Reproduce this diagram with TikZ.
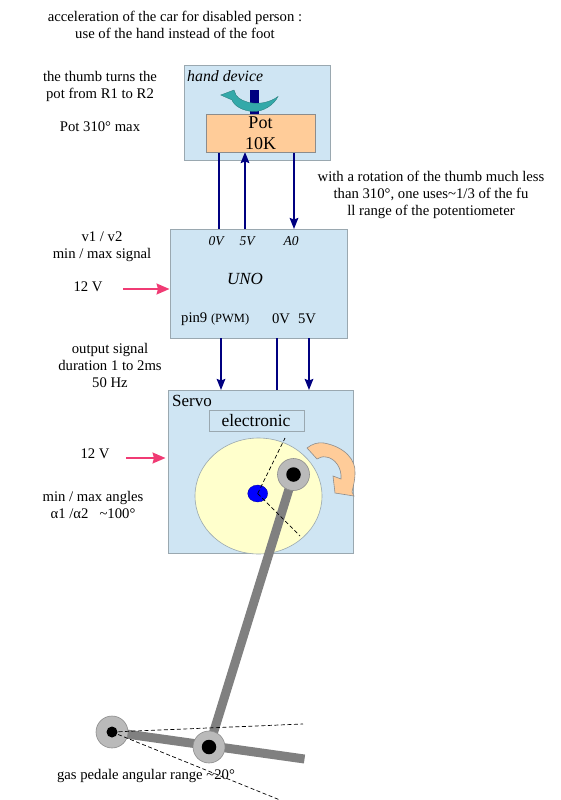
\documentclass[tikz,border=0pt]{standalone}
\usepackage{fontspec}
\setmainfont{Liberation Serif}
\usetikzlibrary{arrows.meta}
\definecolor{boxblue}{HTML}{CFE5F3}
\definecolor{boxedge}{HTML}{9AA8B0}
\definecolor{potorange}{HTML}{FFCC99}
\definecolor{discyellow}{HTML}{FFFFCC}
\definecolor{wirenavy}{HTML}{000080}
\definecolor{pinkarrow}{HTML}{F03B74}
\definecolor{thumbteal}{HTML}{33A9A9}
\tikzset{
    box/.style={draw=boxedge, line width=1pt, fill=boxblue, inner sep=0pt},
    lbl/.style={font=\fontsize{14.7}{17}\selectfont, align=center, inner sep=0pt},
    wire/.style={draw=wirenavy, line width=2pt},
    wirearrow/.style={wire, -{Stealth[length=11pt,width=8.5pt,inset=1.5pt]}},
    pinkline/.style={draw=pinkarrow, line width=1.4pt, -{Stealth[length=13pt,width=11pt,inset=1.5pt]}},
    bar/.style={draw=black!50, line width=9pt},
    joint/.style={circle, draw=black!45, fill=black!27, line width=0.6pt, minimum size=32pt, inner sep=0pt},
    hole/.style={circle, fill=black, inner sep=0pt},
    limit/.style={draw=black, dash pattern=on 4pt off 2.5pt, line width=0.7pt}
}
\begin{document}
\begin{tikzpicture}[x=1pt, y=-1pt]
    \useasboundingbox (0,0) rectangle (560,800);

    %Add the boxes
    \node[box, minimum width=146pt, minimum height=94pt] (hand) at (257,113) {};
    \node[box, minimum width=177pt, minimum height=109pt] (uno) at (258.5,283.5) {};
    \node[box, minimum width=185pt, minimum height=163pt] (servo) at (260.5,471.5) {};

    %Define the ends of the wires
    \coordinate (uno0V) at (219,229);
    \coordinate (uno5V) at (245,229);
    \coordinate (unoA0) at (294,229);
    \coordinate (pot0V) at (219,150);
    \coordinate (pot5V) at (245,152);
    \coordinate (potA0) at (294,150);
    \coordinate (pinOut) at (221,338);
    \coordinate (gndOut) at (277,338);
    \coordinate (vccOut) at (309,338);
    \coordinate (servoIn) at (221,390);
    \coordinate (servoGnd) at (277,390);
    \coordinate (servoVcc) at (309,390);

    % Add the wires
    \draw[wire] (pot0V) -- (uno0V);
    \draw[wirearrow] (uno5V) -- (pot5V);
    \draw[wirearrow] (potA0) -- (unoA0);
    \draw[wirearrow] (pinOut) -- (servoIn);
    \draw[wire] (gndOut) -- (servoGnd);
    \draw[wirearrow] (vccOut) -- (servoVcc);

    % Add the pot and the thumb
    \node[box, draw=black!45, fill=potorange, minimum width=109pt, minimum height=38pt] (pot) at (260.5,133) {};
    \fill[wirenavy] (250,90) rectangle (259,114);
    \filldraw[fill=thumbteal, draw=thumbteal!70!black, line width=0.3pt] (220.7,95) -- (234,90) -- (236,95)
        .. controls (241,103) and (262,108) .. (278,96.5)
        .. controls (274,105) and (263,112) .. (253,111.5)
        .. controls (243,111) and (234,106) .. (232,100)
        -- cycle;
    \node[lbl, font=\fontsize{18}{21}\selectfont] (potname) at (260.5,133) {Pot\\10K};
    \node[lbl, anchor=west, font=\fontsize{15.8}{17}\selectfont\itshape] (handname) at (187,76) {hand device};

    % Add the labels of the uno
    \node[lbl, font=\fontsize{13.5}{15}\selectfont\itshape] (lab0V) at (216,241) {0V};
    \node[lbl, font=\fontsize{13.5}{15}\selectfont\itshape] (lab5V) at (247,241) {5V};
    \node[lbl, font=\fontsize{13.5}{15}\selectfont\itshape] (labA0) at (291,241) {A0};
    \node[lbl, font=\fontsize{17}{17}\selectfont\itshape] (unoname) at (245,279) {UNO};
    \node[lbl, anchor=west] (pin) at (181,319) {pin9 {\fontsize{12.5}{13}\selectfont (PWM)}};
    \node[lbl] (lab0Vout) at (281,319) {0V};
    \node[lbl] (lab5Vout) at (307,319) {5V};

    % Add the labels left and right of the boxes
    \node[lbl] (title) at (175,25) {acceleration of the car for disabled  person :\\use of the hand instead of the foot};
    \node[lbl] (thumb) at (100,86) {the thumb turns the\\pot from R1 to R2};
    \node[lbl] (potmax) at (100,127) {Pot 310° max};
    \node[lbl] (rotation) at (431,195) {with a rotation of the thumb much less\\than 310°, one uses\textasciitilde 1/3 of the fu\\ll range of the potentiometer};
    \node[lbl] (signal) at (102,246.5) {v1 / v2\\min / max signal};
    \node[lbl] (volt) at (88,287) {12 V};
    \node[lbl] (output) at (110,365) {output signal\\duration 1 to 2ms\\50 Hz};
    \node[lbl] (voltservo) at (95,454) {12 V};
    \node[lbl] (angles) at (93,505) {min / max angles\\α1 /α2 \ \ \textasciitilde 100°};
    \node[lbl] (range) at (146,776) {gas pedale angular range \textasciitilde 20°};

    % Add the 12 V arrows
    \coordinate (supplyUno) at (123,289);
    \coordinate (supplyServo) at (126,458);
    \draw[pinkline] (supplyUno) -- (uno.west |- supplyUno);
    \draw[pinkline, shorten >=2pt] (supplyServo) -- (servo.west |- supplyServo);

    % Add the inside of the servo
    \node[lbl, anchor=west, font=\fontsize{17}{17}\selectfont] (servoname) at (172,401) {Servo};
    \node[box, minimum width=95pt, minimum height=21pt] (electronic) at (256.5,421) {};
    \node[lbl, font=\fontsize{17.5}{17}\selectfont] (electronicname) at (256,421) {electronic};
    \filldraw[fill=discyellow, draw=boxedge, line width=0.6pt] (258.5,496) ellipse (63.5 and 58);
    \filldraw[fill=blue, draw=blue!60!black, line width=0.3pt] (257.7,493.5) ellipse (10 and 8.5);

    % Add the orange rotation arrow
    \filldraw[fill=potorange, draw=black!45, line width=0.6pt] (307,448)
        .. controls (312,444) and (318,442) .. (324,443)
        .. controls (345,447) and (356,460) .. (355,473)
        .. controls (355,481) and (353,487) .. (352,492)
        -- (354,496) -- (335,493) -- (333,476) -- (341,479)
        .. controls (342,468) and (335,458) .. (326,457)
        .. controls (322,456) and (319,458) .. (317,459) -- cycle;

    %Define the centres of the joints
    \coordinate (crankc) at (293.5,474.5);
    \coordinate (pivotc) at (112,732);
    \coordinate (pedalc) at (209,747);
    \coordinate (leverend) at (304.5,759);
    \coordinate (servoc) at (257.7,493.5);

    % Add the rod and the lever
    \draw[bar] (crankc) -- (pedalc);
    \draw[bar] (pivotc) -- (leverend);

    % Add the dashed limits of the angles
    \coordinate (servomin) at (285,438);
    \coordinate (servomax) at (300,536);
    \coordinate (pedalmin) at (303,724);
    \coordinate (pedalmax) at (280,800);

    % Add the joints
    \node[joint] (crank) at (crankc) {};
    \node[hole, minimum size=14.5pt] (crankhole) at (crankc) {};
    \node[joint] (pivot) at (pivotc) {};
    \node[hole, minimum size=11pt] (pivothole) at (pivotc) {};
    \node[joint] (pedal) at (pedalc) {};
    \node[hole, minimum size=14.5pt] (pedalhole) at (pedalc) {};

    \draw[limit] (servoc) -- (servomin);
    \draw[limit] (servoc) -- (servomax);
    \draw[limit] (pivotc) -- (pedalmin);
    \draw[limit] (pivotc) -- (pedalmax);
\end{tikzpicture}
\end{document}
